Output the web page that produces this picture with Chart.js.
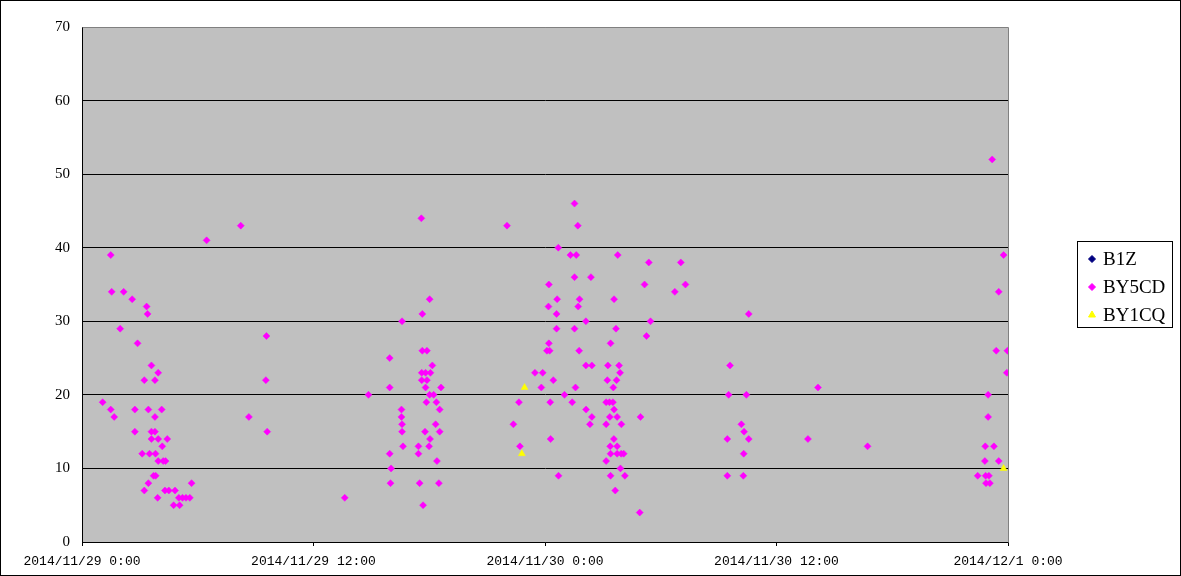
<!DOCTYPE html>
<html>
<head>
<meta charset="utf-8">
<script src="https://cdn.jsdelivr.net/npm/chart.js@4/dist/chart.umd.min.js"></script>
<style>
  html, body { margin: 0; padding: 0; background: #fff; }
  #wrap { width: 1181px; height: 576px; }
</style>
</head>
<body>
<div id="wrap"><canvas id="chart" width="1181" height="576"></canvas></div>
<script>
// hours since 2014/11/29 0:00
const seriesNames = ['B1Z', 'BY5CD', 'BY1CQ'];

const b1zHours = [];
const b1zValues = [];

const by5cdHours = [
  1.07, 1.49, 1.54, 1.49, 1.67, 1.98, 2.16, 2.6, 2.74, 2.74, 2.88, 3.12, 3.23, 3.23, 3.35, 3.4, 3.44, 3.44,
  3.5, 3.6, 3.6, 3.6, 3.71, 3.78, 3.78, 3.78, 3.81, 3.82, 3.92, 3.95, 3.95, 3.95, 4.13, 4.16, 4.21, 4.3,
  4.33, 4.42, 4.5, 4.75, 4.82, 5.02, 5.06, 5.21, 5.39, 5.59, 5.68, 6.46, 8.23, 8.65, 9.53, 9.56, 9.6, 13.62,
  14.85, 15.95, 15.95, 15.95, 15.99, 16.02, 16.56, 16.56, 16.59, 16.59, 16.59, 16.64, 17.44, 17.44, 17.5,
  17.59, 17.61, 17.61, 17.64, 17.64, 17.68, 17.78, 17.81, 17.81, 17.85, 17.88, 17.88, 17.99, 18.02, 18.02,
  18.04, 18.06, 18.16, 18.23, 18.33, 18.37, 18.4, 18.5, 18.54, 18.54, 18.61,
  22.03, 22.36, 22.65, 22.7, 23.48, 23.81, 23.88, 24.1, 24.18, 24.2, 24.2, 24.24, 24.27, 24.29, 24.43,
  24.6, 24.6, 24.63, 24.69, 24.7, 25.01, 25.32, 25.41, 25.53, 25.53, 25.53, 25.58, 25.62, 25.7, 25.72,
  25.77, 25.79, 26.12, 26.12, 26.13, 26.33, 26.38, 26.43, 26.43, 27.17, 27.17, 27.17, 27.23, 27.26, 27.34,
  27.36, 27.38, 27.4, 27.4, 27.4, 27.52, 27.54, 27.57, 27.58, 27.58, 27.64, 27.68, 27.71, 27.74, 27.74,
  27.74, 27.77, 27.84, 27.89, 27.91, 27.95, 27.96, 28.08, 28.14, 28.91, 28.95, 29.16, 29.26, 29.38, 29.47,
  30.73, 31.04, 31.28,
  33.45, 33.45, 33.52, 33.59, 34.18, 34.28, 34.3, 34.32, 34.44, 34.56, 34.56, 37.63, 38.15, 40.72,
  46.43, 46.8, 46.82, 46.84, 46.86, 46.97, 46.97, 47.01, 47.06, 47.18, 47.27, 47.39, 47.52, 47.52, 47.77,
  47.94, 47.97
];
const by5cdValues = [
  19, 39, 34, 18, 17, 29, 34, 33, 18, 15, 27, 12, 22, 7, 32, 31, 18, 8,
  12, 24, 15, 14, 9, 22, 17, 15, 12, 9, 6, 23, 14, 11, 18, 13, 11, 7,
  11, 14, 7, 5, 7, 6, 5, 6, 6, 6, 8, 41, 43, 17, 22, 28, 15, 6,
  20, 25, 21, 12, 8, 10, 18, 17, 30, 16, 15, 13, 13, 12, 8,
  44, 23, 22, 31, 26, 5, 15, 23, 21, 19, 26, 22, 13, 33, 20,
  14, 23, 24, 20, 16, 19, 11, 8, 18, 15, 21,
  43, 16, 19, 13, 23, 21, 23, 26, 32, 35, 27, 26, 19, 14, 22,
  31, 29, 33, 40, 9, 20, 39, 19, 46, 36, 29, 21, 39, 43, 32,
  26, 33, 30, 24, 18, 16, 36, 24, 17, 19, 16, 11, 22, 24, 19,
  17, 13, 27, 12, 9, 19, 21, 14, 33, 18, 7, 29, 22, 17, 13,
  12, 39, 24, 23, 10, 12, 16, 12, 9, 4, 17, 35, 28, 38, 30,
  34, 38, 35,
  14, 9, 20, 24, 16, 9, 12, 15, 20, 31, 14, 14, 21, 13,
  9, 11, 13, 9, 8, 20, 17, 9, 8, 52, 13, 26, 34, 11, 39,
  23, 26
];

const by1cqHours = [22.8, 22.94, 47.77];
const by1cqValues = [12, 21, 10];

const xTickLabels = ['2014/11/29 0:00', '2014/11/29 12:00', '2014/11/30 0:00', '2014/11/30 12:00', '2014/12/1 0:00'];
const yTicks = [0, 10, 20, 30, 40, 50, 60, 70];

const toPoints = (hours, values) => hours.map((h, i) => ({ x: h, y: values[i] }));

const colors = ['#000080', '#FF00FF', '#FFFF00'];
const styles = ['rectRot', 'rectRot', 'triangle'];

const plotBg = {
  id: 'plotBg',
  beforeDraw(chart) {
    const { ctx, chartArea: a } = chart;
    ctx.save();
    ctx.fillStyle = '#fff';
    ctx.fillRect(0, 0, chart.width, chart.height);
    ctx.fillStyle = '#C0C0C0';
    ctx.fillRect(a.left, a.top, a.right - a.left, a.bottom - a.top);
    ctx.restore();
  },
  afterDraw(chart) {
    const { ctx, chartArea: a } = chart;
    ctx.save();
    // gray frame top/right of plot
    ctx.strokeStyle = '#808080';
    ctx.lineWidth = 1;
    ctx.beginPath();
    ctx.moveTo(Math.round(a.left) + 0.5, Math.round(a.top) + 0.5);
    ctx.lineTo(Math.round(a.right) + 0.5, Math.round(a.top) + 0.5);
    ctx.lineTo(Math.round(a.right) + 0.5, Math.round(a.bottom) + 0.5);
    ctx.stroke();
    // outer border
    ctx.strokeStyle = '#000';
    ctx.strokeRect(0.5, 0.5, chart.width - 1, chart.height - 1);

    // legend box
    const lx = 1077, ly = 241, lw = 95, lh = 86;
    ctx.fillStyle = '#fff';
    ctx.fillRect(lx, ly, lw, lh);
    ctx.strokeRect(lx + 0.5, ly + 0.5, lw, lh);
    const rows = [259, 287, 315];
    ctx.font = '19px "Liberation Serif", serif';
    ctx.textBaseline = 'middle';
    seriesNames.forEach((name, i) => {
      ctx.fillStyle = colors[i];
      ctx.strokeStyle = colors[i];
      Chart.helpers.drawPoint(ctx, {
        pointStyle: styles[i], radius: i === 2 ? 4 : 3.5, rotation: 0, borderWidth: 1
      }, 1092, rows[i]);
      ctx.fillStyle = '#000';
      ctx.fillText(name, 1103, rows[i] + 1);
    });
    ctx.restore();
  }
};

new Chart(document.getElementById('chart'), {
  type: 'scatter',
  data: {
    datasets: [
      { label: seriesNames[0], data: toPoints(b1zHours, b1zValues) },
      { label: seriesNames[1], data: toPoints(by5cdHours, by5cdValues) },
      { label: seriesNames[2], data: toPoints(by1cqHours, by1cqValues) }
    ].map((d, i) => ({
      ...d,
      pointStyle: styles[i],
      pointRadius: i === 2 ? 4 : 3.5,
      pointBackgroundColor: colors[i],
      pointBorderColor: colors[i],
      pointBorderWidth: 0.5
    }))
  },
  options: {
    responsive: false,
    animation: false,
    layout: { padding: { top: 27, right: 173, left: 0, bottom: 0 } },
    plugins: {
      legend: { display: false },
      tooltip: { enabled: false }
    },
    scales: {
      x: {
        type: 'linear',
        min: 0,
        max: 48,
        afterFit: s => { s.height = 34; },
        afterBuildTicks: s => { s.ticks = xTickLabels.map((_, i) => ({ value: i * 12 })); },
        border: { color: '#000', width: 1 },
        grid: { drawOnChartArea: false, drawTicks: true, tickLength: 4, color: '#000' },
        ticks: {
          autoSkip: false,
          maxRotation: 0,
          padding: 8,
          color: '#000',
          font: { family: '"Liberation Mono", monospace', size: 13 }
          ,
          callback: v => xTickLabels[Math.round(v / 12)]
        }
      },
      y: {
        min: 0,
        max: 70,
        afterFit: s => { s.width = 82; },
        afterBuildTicks: s => { s.ticks = yTicks.map(v => ({ value: v })); },
        border: { color: '#000', width: 1 },
        grid: {
          drawTicks: false,
          color: c => (c.tick && c.tick.value === 70 ? '#808080' : '#000')
        },
        ticks: {
          padding: 12,
          color: '#000',
          font: { family: '"Liberation Serif", serif', size: 15 }
        }
      }
    }
  },
  plugins: [plotBg]
});
</script>
</body>
</html>
